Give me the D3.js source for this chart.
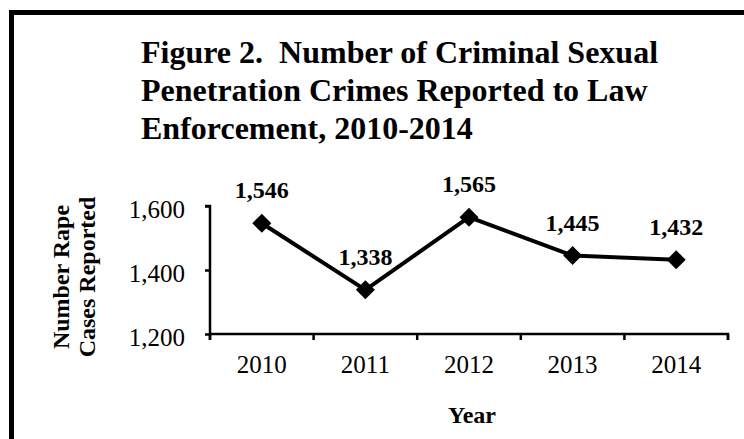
<!DOCTYPE html>
<html>
<head>
<meta charset="utf-8">
<script src="https://cdn.jsdelivr.net/npm/d3@7"></script>
<style>
  html, body { margin: 0; padding: 0; background: #fff; overflow: hidden; width: 744px; height: 439px; }
  svg { display: block; }
  text { font-family: "Liberation Serif", "Times New Roman", serif; fill: #000; }
</style>
</head>
<body>
<svg id="chart" width="744" height="439"></svg>
<script>
const titleLines = [
  "Figure 2.  Number of Criminal Sexual",
  "Penetration Crimes Reported to Law",
  "Enforcement, 2010-2014"
];
const years = ["2010", "2011", "2012", "2013", "2014"];
const cases = [1546, 1338, 1565, 1445, 1432];
const yTicks = [1200, 1400, 1600];
const yTitleLines = ["Number Rape", "Cases Reported"];
const xTitle = "Year";

const svg = d3.select("#chart");
const W = 744, H = 439;
svg.append("rect").attr("width", W).attr("height", H).attr("fill", "#fff");

// border: only the top and left edges are visible in the crop
svg.append("rect").attr("x", 9).attr("y", 10).attr("width", W - 9).attr("height", 5).attr("fill", "#000");
svg.append("rect").attr("x", 9).attr("y", 10).attr("width", 5).attr("height", H - 10).attr("fill", "#000");

// title
const title = svg.append("text")
  .attr("font-size", 32).attr("font-weight", "bold")
  .style("white-space", "pre");
titleLines.forEach((t, i) => {
  title.append("tspan").attr("x", 141).attr("y", 63 + i * 38).text(t);
});

const pL = 210, pR = 728, pT = 206, pB = 334;
const x = d3.scaleBand().domain(years).range([pL, pR]).padding(0);
const y = d3.scaleLinear().domain([1200, 1600]).range([pB, pT]);

// y axis
const yAxis = svg.append("g").attr("transform", `translate(${pL},0)`)
  .call(d3.axisLeft(y).tickValues(yTicks).tickSize(5).tickFormat(d3.format(",")));
yAxis.select(".domain").attr("stroke", "#000").attr("stroke-width", 2.5)
  .attr("d", `M-5,${y(1600)}H0V${y(1200) + 6}`);
yAxis.selectAll(".tick line").attr("stroke", "#000").attr("stroke-width", 2.5);
yAxis.selectAll(".tick text")
  .attr("font-size", 25).attr("font-family", "Liberation Serif")
  .attr("x", -25).attr("dy", 11).attr("fill", "#000");

// x axis
const xAxis = svg.append("g").attr("transform", `translate(0,${pB})`)
  .call(d3.axisBottom(x).tickSize(0));
xAxis.select(".domain").attr("stroke", "#000").attr("stroke-width", 2.5)
  .attr("d", `M${pL},0H${pR}V6`);
xAxis.selectAll(".tick text")
  .attr("font-size", 25).attr("font-family", "Liberation Serif")
  .attr("y", 39).attr("dy", 0).attr("fill", "#000");
const bounds = d3.range(years.length + 1).map(i => x.range()[0] + i * x.bandwidth());
xAxis.selectAll(".bound").data(bounds).enter().append("line")
  .attr("class", "bound")
  .attr("x1", d => d).attr("x2", d => d)
  .attr("y1", 0).attr("y2", 6)
  .attr("stroke", "#000").attr("stroke-width", 2.5);

// line
const pts = years.map((yr, i) => ({ yr, v: cases[i] }));
const cx = d => x(d.yr) + x.bandwidth() / 2;
svg.append("path").datum(pts)
  .attr("fill", "none").attr("stroke", "#000").attr("stroke-width", 4)
  .attr("stroke-linejoin", "round")
  .attr("d", d3.line().x(cx).y(d => y(d.v)));

// markers
svg.selectAll(".mk").data(pts).enter().append("path")
  .attr("class", "mk")
  .attr("d", d3.symbol(d3.symbolSquare, 180))
  .attr("transform", d => `translate(${cx(d)},${y(d.v)}) rotate(45)`)
  .attr("fill", "#000");

// data labels
svg.selectAll(".lbl").data(pts).enter().append("text")
  .attr("class", "lbl")
  .attr("x", cx).attr("y", d => y(d.v) - 25)
  .attr("text-anchor", "middle")
  .attr("font-size", 24).attr("font-weight", "bold")
  .text(d => d3.format(",")(d.v));

// y title
const yt = svg.append("text")
  .attr("transform", "translate(0,277) rotate(-90)")
  .attr("text-anchor", "middle")
  .attr("font-size", 24).attr("font-weight", "bold");
yTitleLines.forEach((t, i) => {
  yt.append("tspan").attr("x", 0).attr("y", 69 + i * 26).text(t);
});

// x title
svg.append("text")
  .attr("x", 472).attr("y", 423)
  .attr("text-anchor", "middle")
  .attr("font-size", 24).attr("font-weight", "bold")
  .text(xTitle);
</script>
</body>
</html>
